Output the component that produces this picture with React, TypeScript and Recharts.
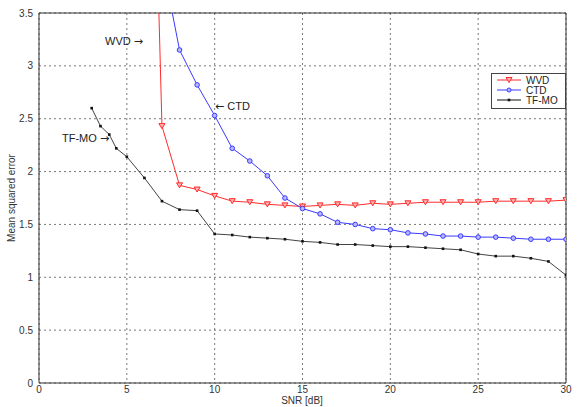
import React from "react";
import {
  LineChart,
  Line,
  XAxis,
  YAxis,
  CartesianGrid,
  ReferenceLine,
} from "recharts";

// SNR points (dB) and mean squared error
const wvdSnr = [6.5, 7, 8, 9, 10, 11, 12, 13, 14, 15, 16, 17, 18, 19, 20, 21, 22, 23, 24, 25, 26, 27, 28, 29, 30];
const wvdMse = [5.5, 2.43, 1.87, 1.83, 1.77, 1.72, 1.71, 1.69, 1.68, 1.67, 1.68, 1.69, 1.68, 1.7, 1.69, 1.7, 1.71, 1.71, 1.71, 1.71, 1.72, 1.72, 1.72, 1.72, 1.73];

const ctdSnr = [7, 8, 9, 10, 11, 12, 13, 14, 15, 16, 17, 18, 19, 20, 21, 22, 23, 24, 25, 26, 27, 28, 29, 30];
const ctdMse = [4.0, 3.15, 2.82, 2.53, 2.22, 2.1, 1.96, 1.75, 1.65, 1.6, 1.52, 1.5, 1.46, 1.45, 1.42, 1.41, 1.39, 1.39, 1.38, 1.38, 1.37, 1.36, 1.36, 1.36];

const tfmoSnr = [3, 3.5, 4, 4.4, 5, 6, 7, 8, 9, 10, 11, 12, 13, 14, 15, 16, 17, 18, 19, 20, 21, 22, 23, 24, 25, 26, 27, 28, 29, 30];
const tfmoMse = [2.6, 2.43, 2.35, 2.22, 2.14, 1.94, 1.72, 1.64, 1.63, 1.41, 1.4, 1.38, 1.37, 1.36, 1.34, 1.33, 1.31, 1.31, 1.3, 1.29, 1.29, 1.28, 1.27, 1.26, 1.22, 1.2, 1.2, 1.18, 1.15, 1.02];

const xTicks = [0, 5, 10, 15, 20, 25, 30];
const yTicks = [0, 0.5, 1, 1.5, 2, 2.5, 3, 3.5];

const toRows = (xs: number[], ys: number[]) => xs.map((snr, i) => ({ snr, mse: ys[i] }));

const RED = "#ff2b2b";
const BLUE = "#3a3aff";
const BLACK = "#111";

const Triangle = (props: any) => {
  const { cx, cy } = props;
  if (cx == null || cy == null) return null;
  return (
    <path
      d={`M${cx - 3},${cy - 2.5} L${cx + 3},${cy - 2.5} L${cx},${cy + 2.5} Z`}
      fill="#ffb3b3"
      stroke={RED}
      strokeWidth={1}
    />
  );
};

const Square = (props: any) => {
  const { cx, cy } = props;
  if (cx == null || cy == null) return null;
  return <rect x={cx - 1.3} y={cy - 1.3} width={2.6} height={2.6} fill={BLACK} />;
};

const font = "'Liberation Sans', Arial, sans-serif";
const arrowFont = "'DejaVu Sans', sans-serif";

const LegendRow = ({ color, label, marker }: { color: string; label: string; marker: React.ReactNode }) => (
  <div style={{ display: "flex", alignItems: "center", height: 10 }}>
    <svg width={26} height={10} style={{ marginLeft: 4 }}>
      <line x1={1} y1={5} x2={25} y2={5} stroke={color} strokeWidth={1} />
      {marker}
    </svg>
    <span style={{ marginLeft: 4, fontSize: 10, color: "#222" }}>{label}</span>
  </div>
);

const Arrow = ({ dir }: { dir: "left" | "right" }) => (
  <span style={{ fontFamily: arrowFont, fontSize: 11 }}>{dir === "left" ? "\u2190" : "\u2192"}</span>
);

export default function App() {
  return (
    <div style={{ position: "absolute", left: 0, top: 0, width: 579, height: 407, background: "#fff", fontFamily: font }}>
      <LineChart width={579} height={407} margin={{ top: 13, right: 13, left: 0, bottom: 0 }}>
        <CartesianGrid stroke="#555" strokeDasharray="2 3" strokeWidth={0.8} />
        <XAxis
          dataKey="snr"
          type="number"
          domain={[0, 30]}
          ticks={xTicks}
          allowDataOverflow
          height={24}
          tickLine={false}
          tickSize={2}
          tickMargin={1}
          axisLine={{ stroke: "#333" }}
          tick={{ fontSize: 10, fill: "#333", fontFamily: font }}
        />
        <YAxis
          type="number"
          domain={[0, 3.5]}
          ticks={yTicks}
          allowDataOverflow
          width={39}
          tickLine={false}
          tickSize={2}
          tickMargin={4}
          axisLine={{ stroke: "#333" }}
          tick={{ fontSize: 10, fill: "#333", fontFamily: font }}
        />
        <ReferenceLine y={3.5} stroke="#333" />
        <ReferenceLine x={30} stroke="#333" />
        <Line
          data={toRows(wvdSnr, wvdMse)}
          dataKey="mse"
          type="linear"
          stroke={RED}
          strokeWidth={1}
          dot={<Triangle />}
          isAnimationActive={false}
        />
        <Line
          data={toRows(ctdSnr, ctdMse)}
          dataKey="mse"
          type="linear"
          stroke={BLUE}
          strokeWidth={1}
          dot={{ r: 2.3, fill: "#b8b8ff", stroke: BLUE, strokeWidth: 1 }}
          isAnimationActive={false}
        />
        <Line
          data={toRows(tfmoSnr, tfmoMse)}
          dataKey="mse"
          type="linear"
          stroke={BLACK}
          strokeWidth={0.8}
          dot={<Square />}
          isAnimationActive={false}
        />
      </LineChart>

      <div
        style={{
          position: "absolute",
          left: 302,
          top: 395,
          transform: "translateX(-50%)",
          fontSize: 10,
          lineHeight: "11px",
          color: "#333",
          whiteSpace: "nowrap",
        }}
      >
        SNR [dB]
      </div>

      <div
        style={{
          position: "absolute",
          left: 12,
          top: 198,
          transform: "translate(-50%, -50%) rotate(-90deg)",
          fontSize: 10,
          lineHeight: "12px",
          color: "#333",
          whiteSpace: "nowrap",
        }}
      >
        Mean squared error
      </div>

      <div style={{ position: "absolute", left: 105, top: 35, fontSize: 11, color: "#222", whiteSpace: "nowrap" }}>
        WVD <Arrow dir="right" />
      </div>
      <div style={{ position: "absolute", left: 215, top: 100, fontSize: 11, color: "#222", whiteSpace: "nowrap" }}>
        <Arrow dir="left" /> CTD
      </div>
      <div style={{ position: "absolute", left: 62, top: 132, fontSize: 11, color: "#222", whiteSpace: "nowrap" }}>
        TF-MO <Arrow dir="right" />
      </div>

      <div
        style={{
          position: "absolute",
          left: 491,
          top: 73,
          width: 73,
          height: 33,
          background: "#fff",
          border: "1px solid #444",
          paddingTop: 1,
        }}
      >
        <LegendRow color={RED} label="WVD" marker={<Triangle cx={13} cy={5} />} />
        <LegendRow color={BLUE} label="CTD" marker={<circle cx={13} cy={5} r={2} fill="#b8b8ff" stroke={BLUE} />} />
        <LegendRow color={BLACK} label="TF-MO" marker={<Square cx={13} cy={5} />} />
      </div>
    </div>
  );
}
